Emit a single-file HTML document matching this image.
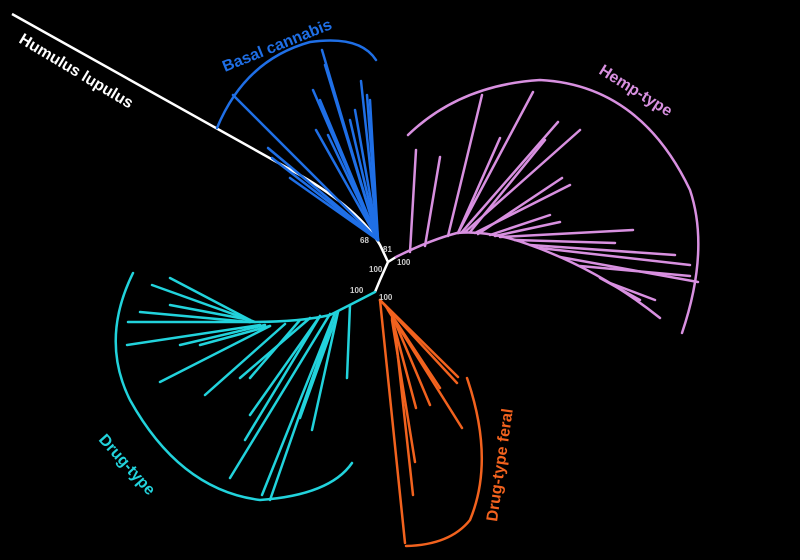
<!DOCTYPE html>
<html><head><meta charset="utf-8"><style>
html,body{margin:0;padding:0;background:#000;}
svg{display:block}
text{font-family:"Liberation Sans",sans-serif;font-weight:bold;font-size:16px}
</style></head><body>
<svg width="800" height="560" viewBox="0 0 800 560" xmlns="http://www.w3.org/2000/svg">
<rect width="800" height="560" fill="#000"/>
<!-- Humulus -->
<path d="M12 14 L300 175 Q360 210 380 245 L388 262" stroke="#fff" stroke-width="2.5" fill="none"/>
<text x="18" y="42" fill="#fff" transform="rotate(31 18 42)">Humulus lupulus</text>
<!-- center backbone -->
<path d="M388 262 L380 280 L375 292" stroke="#fff" stroke-width="2.5" fill="none"/>
<path d="M388 262 L396 257" stroke="#fff" stroke-width="2.5" fill="none"/>
<!-- Basal -->
<g stroke="#1f6fe6" stroke-width="2.5" fill="none" stroke-linecap="round">
<path d="M217 128 Q245 60 310 42 Q360 35 376 60"/>
<line x1="378" y1="240" x2="233" y2="95"/>
<line x1="378" y1="240" x2="268" y2="148"/>
<line x1="378" y1="240" x2="272" y2="158"/>
<line x1="378" y1="240" x2="290" y2="178"/>
<line x1="378" y1="240" x2="313" y2="90"/>
<line x1="378" y1="240" x2="320" y2="100"/>
<line x1="378" y1="240" x2="316" y2="130"/>
<line x1="378" y1="240" x2="328" y2="135"/>
<line x1="378" y1="240" x2="325" y2="65"/>
<line x1="378" y1="240" x2="322" y2="50"/>
<line x1="378" y1="240" x2="361" y2="81"/>
<line x1="378" y1="240" x2="367" y2="95"/>
<line x1="378" y1="240" x2="355" y2="110"/>
<line x1="378" y1="240" x2="350" y2="120"/>
<line x1="378" y1="240" x2="370" y2="100"/>
</g>
<text x="225" y="72" fill="#1f6fe6" transform="rotate(-22 225 72)">Basal cannabis</text>
<!-- Hemp -->
<g stroke="#d890e0" stroke-width="2.5" fill="none" stroke-linecap="round">
<path d="M408 135 Q460 85 540 80 Q640 85 690 190 Q710 250 682 333"/>
<path d="M396 257 Q430 240 457 233 Q490 230 530 245 Q600 270 660 318"/>
<line x1="410" y1="252" x2="416" y2="150"/>
<line x1="425" y1="246" x2="440" y2="157"/>
<line x1="448" y1="236" x2="482" y2="95"/>
<line x1="458" y1="233" x2="533" y2="92"/>
<line x1="458" y1="233" x2="500" y2="138"/>
<line x1="462" y1="232" x2="558" y2="122"/>
<line x1="465" y1="232" x2="580" y2="130"/>
<line x1="470" y1="232" x2="545" y2="140"/>
<line x1="475" y1="233" x2="570" y2="185"/>
<line x1="478" y1="234" x2="562" y2="178"/>
<line x1="490" y1="235" x2="550" y2="215"/>
<line x1="495" y1="236" x2="560" y2="222"/>
<line x1="500" y1="237" x2="633" y2="230"/>
<line x1="515" y1="240" x2="615" y2="243"/>
<line x1="530" y1="245" x2="675" y2="255"/>
<line x1="540" y1="248" x2="690" y2="265"/>
<line x1="560" y1="257" x2="698" y2="282"/>
<line x1="580" y1="266" x2="690" y2="276"/>
<line x1="600" y1="278" x2="640" y2="300"/>
<line x1="610" y1="283" x2="655" y2="300"/>
</g>
<text x="598" y="73" fill="#d890e0" transform="rotate(32 598 73)">Hemp-type</text>
<!-- Drug-type -->
<g stroke="#22d3dc" stroke-width="2.5" fill="none" stroke-linecap="round">
<path d="M133 273 Q100 340 130 400 Q180 490 260 500 Q330 495 352 463"/>
<path d="M375 292 Q350 305 330 315 Q300 322 250 322"/>
<line x1="255" y1="322" x2="152" y2="285"/>
<line x1="250" y1="320" x2="170" y2="278"/>
<line x1="250" y1="320" x2="170" y2="305"/>
<line x1="250" y1="322" x2="140" y2="312"/>
<line x1="250" y1="322" x2="128" y2="322"/>
<line x1="260" y1="325" x2="127" y2="345"/>
<line x1="265" y1="325" x2="180" y2="345"/>
<line x1="270" y1="326" x2="200" y2="345"/>
<line x1="270" y1="326" x2="160" y2="382"/>
<line x1="285" y1="324" x2="205" y2="395"/>
<line x1="300" y1="320" x2="250" y2="378"/>
<line x1="310" y1="318" x2="240" y2="378"/>
<line x1="320" y1="316" x2="250" y2="415"/>
<line x1="320" y1="316" x2="245" y2="440"/>
<line x1="330" y1="314" x2="230" y2="478"/>
<line x1="335" y1="313" x2="262" y2="495"/>
<line x1="335" y1="313" x2="270" y2="500"/>
<line x1="338" y1="312" x2="300" y2="418"/>
<line x1="338" y1="312" x2="312" y2="430"/>
<line x1="350" y1="305" x2="347" y2="378"/>
</g>
<text x="98" y="440" fill="#22d3dc" transform="rotate(48 98 440)">Drug-type</text>
<!-- Drug-type feral -->
<g stroke="#f2621e" stroke-width="2.5" fill="none" stroke-linecap="round">
<path d="M467 378 Q495 460 470 520 Q450 545 406 546"/>
<line x1="380" y1="300" x2="458" y2="377"/>
<line x1="380" y1="300" x2="457" y2="383"/>
<line x1="385" y1="305" x2="440" y2="388"/>
<line x1="388" y1="310" x2="462" y2="428"/>
<line x1="390" y1="310" x2="430" y2="405"/>
<line x1="392" y1="318" x2="416" y2="408"/>
<line x1="392" y1="320" x2="415" y2="462"/>
<line x1="395" y1="330" x2="413" y2="495"/>
<line x1="380" y1="300" x2="405" y2="543"/>
</g>
<text x="497" y="522" fill="#f2621e" transform="rotate(-82 497 522)">Drug-type feral</text>
<!-- bootstrap labels -->
<g fill="#ccc">
<text x="360" y="243" style="font-size:8px">68</text>
<text x="383" y="252" style="font-size:8px">81</text>
<text x="369" y="272" style="font-size:8px">100</text>
<text x="397" y="265" style="font-size:8px">100</text>
<text x="350" y="293" style="font-size:8px">100</text>
<text x="379" y="300" style="font-size:8px">100</text>
</g>
</svg>
</body></html>
